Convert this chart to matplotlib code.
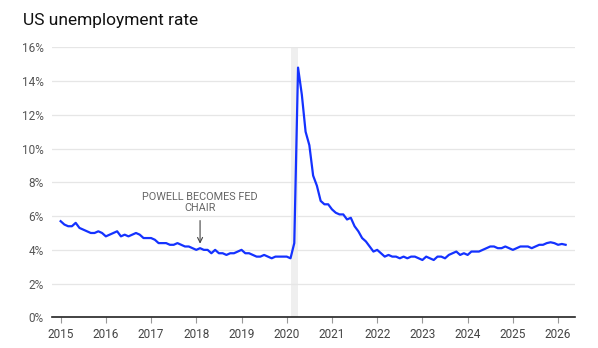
import numpy as np
import matplotlib.pyplot as plt

# monthly US unemployment rate, Jan 2015 - Mar 2026 (%)
rate_2015 = [5.7, 5.5, 5.4, 5.4, 5.6, 5.3, 5.2, 5.1, 5.0, 5.0, 5.1, 5.0]
rate_2016 = [4.8, 4.9, 5.0, 5.1, 4.8, 4.9, 4.8, 4.9, 5.0, 4.9, 4.7, 4.7]
rate_2017 = [4.7, 4.6, 4.4, 4.4, 4.4, 4.3, 4.3, 4.4, 4.3, 4.2, 4.2, 4.1]
rate_2018 = [4.0, 4.1, 4.0, 4.0, 3.8, 4.0, 3.8, 3.8, 3.7, 3.8, 3.8, 3.9]
rate_2019 = [4.0, 3.8, 3.8, 3.7, 3.6, 3.6, 3.7, 3.6, 3.5, 3.6, 3.6, 3.6]
rate_2020 = [3.6, 3.5, 4.4, 14.8, 13.2, 11.0, 10.2, 8.4, 7.8, 6.9, 6.7, 6.7]
rate_2021 = [6.4, 6.2, 6.1, 6.1, 5.8, 5.9, 5.4, 5.1, 4.7, 4.5, 4.2, 3.9]
rate_2022 = [4.0, 3.8, 3.6, 3.7, 3.6, 3.6, 3.5, 3.6, 3.5, 3.6, 3.6, 3.5]
rate_2023 = [3.4, 3.6, 3.5, 3.4, 3.6, 3.6, 3.5, 3.7, 3.8, 3.9, 3.7, 3.8]
rate_2024 = [3.7, 3.9, 3.9, 3.9, 4.0, 4.1, 4.2, 4.2, 4.1, 4.1, 4.2, 4.1]
rate_2025 = [4.0, 4.1, 4.2, 4.2, 4.2, 4.1, 4.2, 4.3, 4.3, 4.4, 4.45, 4.4]
rate_2026 = [4.3, 4.35, 4.3]

rates = (rate_2015 + rate_2016 + rate_2017 + rate_2018 + rate_2019 + rate_2020
         + rate_2021 + rate_2022 + rate_2023 + rate_2024 + rate_2025 + rate_2026)
dates = 2015 + np.arange(len(rates)) / 12

years = list(range(2015, 2027))
yticks = [0, 2, 4, 6, 8, 10, 12, 14, 16]

# covid recession, Feb - Apr 2020
recession = (2020 + 1 / 12, 2020 + 3 / 12)
powell_date = 2018 + 1 / 12

plt.rcParams['font.family'] = ['Roboto', 'DejaVu Sans']

fig = plt.figure(figsize=(5.98, 3.48), dpi=100)
ax = fig.add_axes([0.087, 0.088, 0.875, 0.776])

ax.axvspan(*recession, color='#efefef', lw=0, zorder=0)
for y in yticks[1:]:
    ax.axhline(y, color='#e6e6e6', lw=0.9, zorder=0.5)

ax.plot(dates, rates, color='#1432ff', lw=1.6, zorder=3)

ax.annotate('', xy=(powell_date, 4.2), xytext=(powell_date, 5.9),
            arrowprops=dict(arrowstyle='->', color='#444444', lw=0.8,
                            mutation_scale=9))
ax.text(powell_date, 6.2, 'POWELL BECOMES FED\nCHAIR', ha='center', va='bottom',
        fontsize=7.8, color='#666666', linespacing=1.1)

ax.set_xlim(2014.81, 2026.38)
ax.set_ylim(0, 16)
ax.set_xticks(years)
ax.set_xticklabels([str(y) for y in years])
ax.set_yticks(yticks)
ax.set_yticklabels([f'{y}%' for y in yticks])

for side in ['top', 'right', 'left']:
    ax.spines[side].set_visible(False)
ax.spines['bottom'].set_color('#222222')
ax.spines['bottom'].set_linewidth(1.2)

ax.tick_params(axis='x', length=4, width=0.8, color='#999999', pad=4,
               labelsize=8.5, labelcolor='#444444')
ax.tick_params(axis='y', length=0, pad=6, labelsize=8.5, labelcolor='#555555')

fig.text(0.038, 0.942, 'US unemployment rate', fontsize=12.5, color='#111111',
         va='center', ha='left')

fig.savefig('out.png', dpi=100)
